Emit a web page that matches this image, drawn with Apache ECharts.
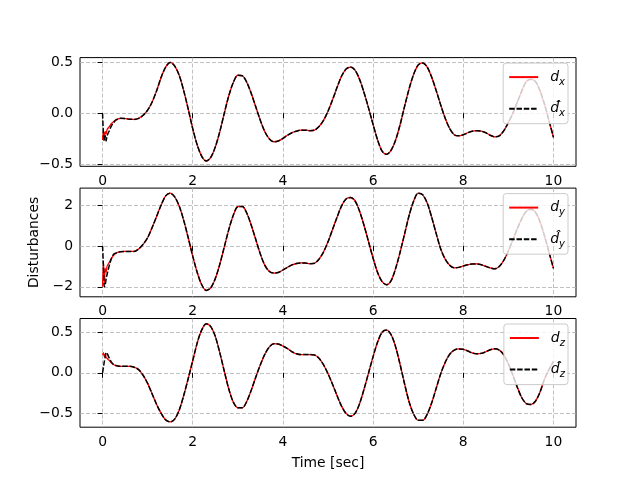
<!DOCTYPE html>
<html><head><meta charset="utf-8">
<script src="https://cdn.jsdelivr.net/npm/echarts@6/dist/echarts.min.js"></script>
<style>html,body{margin:0;padding:0;background:#fff}#c{width:640px;height:480px}</style>
</head><body><div id="c"></div><script>
// transient part (0 .. 0.25 s)
const startTime = [0, 0.02, 0.04, 0.06, 0.08, 0.1, 0.15, 0.2, 0.25];
const dxStart    = [-0.26, -0.17, -0.24, -0.18, -0.2, -0.16, -0.13, -0.1, -0.08];
const dxHatStart = [0, -0.2, -0.27, -0.22, -0.27, -0.22, -0.17, -0.12, -0.09];
const dyStart    = [-2.0, -0.8, -1.8, -1.1, -1.3, -1.0, -0.8, -0.6, -0.45];
const dyHatStart = [0, -1.0, -2.0, -1.9, -1.6, -1.4, -0.95, -0.6, -0.4];
const dzStart    = [0.22, 0.25, 0.2, 0.23, 0.19, 0.18, 0.15, 0.12, 0.1];
const dzHatStart = [0, 0.07, 0.14, 0.2, 0.25, 0.24, 0.18, 0.13, 0.1];

// main part (0.3 .. 10.0 s), estimate coincides with the true value here
const time = [0.3,0.4,0.5,0.6,0.7,0.8,0.9,1.0,1.1,1.2,1.3,1.4,1.5,1.6,1.7,1.8,1.9,2.0,
  2.1,2.2,2.3,2.4,2.5,2.6,2.7,2.8,2.9,3.0,3.1,3.2,3.3,3.4,3.5,3.6,3.7,3.8,3.9,4.0,
  4.1,4.2,4.3,4.4,4.5,4.6,4.7,4.8,4.9,5.0,5.1,5.2,5.3,5.4,5.5,5.6,5.7,5.8,5.9,6.0,
  6.1,6.2,6.3,6.4,6.5,6.6,6.7,6.8,6.9,7.0,7.1,7.2,7.3,7.4,7.5,7.6,7.7,7.8,7.9,8.0,
  8.1,8.2,8.3,8.4,8.5,8.6,8.7,8.8,8.9,9.0,9.1,9.2,9.3,9.4,9.5,9.6,9.7,9.8,9.9,10.0];
const dx = [-0.065,-0.05,-0.052,-0.058,-0.06,-0.05,-0.02,0.03,0.11,0.22,0.35,0.45,0.495,0.46,0.37,0.22,0.04,-0.15,
  -0.31,-0.42,-0.465,-0.43,-0.33,-0.18,0.0,0.17,0.30,0.37,0.365,0.30,0.19,0.06,-0.07,-0.18,-0.25,-0.278,-0.27,-0.245,
  -0.215,-0.19,-0.175,-0.165,-0.165,-0.17,-0.165,-0.13,-0.07,0.02,0.13,0.25,0.36,0.43,0.45,0.42,0.33,0.20,0.05,-0.11,
  -0.26,-0.37,-0.40,-0.36,-0.26,-0.11,0.07,0.24,0.38,0.47,0.49,0.45,0.35,0.22,0.08,-0.05,-0.15,-0.21,-0.22,-0.21,
  -0.19,-0.175,-0.17,-0.175,-0.19,-0.215,-0.23,-0.22,-0.17,-0.09,0.0,0.11,0.22,0.31,0.33,0.31,0.22,0.09,-0.07,-0.235];
const dy = [-0.35,-0.28,-0.27,-0.27,-0.27,-0.15,0.08,0.4,0.9,1.45,2.0,2.45,2.58,2.4,1.95,1.25,0.4,-0.5,
  -1.3,-1.9,-2.18,-2.05,-1.6,-0.9,-0.05,0.8,1.5,1.92,1.93,1.6,1.0,0.3,-0.4,-0.95,-1.25,-1.33,-1.3,-1.18,
  -1.05,-0.93,-0.86,-0.83,-0.84,-0.87,-0.85,-0.65,-0.3,0.2,0.8,1.4,1.95,2.3,2.37,2.2,1.7,1.0,0.2,-0.6,
  -1.3,-1.75,-1.9,-1.7,-1.1,-0.3,0.6,1.5,2.2,2.58,2.5,2.1,1.4,0.6,-0.15,-0.65,-0.95,-1.07,-1.05,-0.98,
  -0.92,-0.88,-0.88,-0.92,-1.0,-1.08,-1.12,-1.0,-0.7,-0.25,0.3,0.85,1.35,1.7,1.8,1.65,1.2,0.5,-0.3,-1.1];
const dz = [0.09,0.08,0.08,0.08,0.07,0.04,-0.03,-0.13,-0.26,-0.39,-0.50,-0.58,-0.605,-0.57,-0.46,-0.28,-0.07,0.15,
  0.37,0.53,0.605,0.57,0.45,0.25,0.02,-0.2,-0.36,-0.43,-0.43,-0.35,-0.21,-0.05,0.1,0.23,0.32,0.36,0.355,0.33,
  0.3,0.26,0.235,0.225,0.225,0.225,0.22,0.18,0.1,-0.01,-0.14,-0.28,-0.41,-0.5,-0.535,-0.5,-0.38,-0.2,0.0,0.2,
  0.38,0.5,0.527,0.47,0.32,0.1,-0.14,-0.36,-0.51,-0.585,-0.585,-0.51,-0.37,-0.19,-0.01,0.13,0.23,0.28,0.295,0.29,
  0.27,0.245,0.235,0.24,0.26,0.285,0.296,0.28,0.22,0.11,-0.03,-0.18,-0.31,-0.38,-0.39,-0.35,-0.24,-0.08,0.04,0.14];

const xTicks = [0, 2, 4, 6, 8, 10];
const yTicks = [[-0.5, 0, 0.5], [-2, 0, 2], [-0.5, 0, 0.5]];
const yRanges = [[-0.517, 0.542], [-2.49, 2.83], [-0.67, 0.67]];
const yDecimals = [1, 0, 1];
const seriesNames = [['dx', 'dxh'], ['dy', 'dyh'], ['dz', 'dzh']];
const legendLabels = {
  dx: '{sp|}{d|d}{s|x}', dxh: '{sp|}{d|d\u0302}{s|x}',
  dy: '{sp|}{d|d}{s|y}', dyh: '{sp|}{d|d\u0302}{s|y}',
  dz: '{sp|}{d|d}{s|z}', dzh: '{sp|}{d|d\u0302}{s|z}'
};
const trueSets = [[dxStart, dx], [dyStart, dy], [dzStart, dz]];
const hatSets = [[dxHatStart, dx], [dyHatStart, dy], [dzHatStart, dz]];

function pairs(st, sv, mv) {
  const out = [];
  for (let i = 0; i < st.length; i++) out.push([st[i], sv[i]]);
  for (let i = 0; i < time.length; i++) out.push([time[i], mv[i]]);
  return out;
}
function fmt(v, d) {
  const s = Math.abs(v).toFixed(d);
  return (v < 0 ? '\u2212' : '') + s;
}

const FONT = 'DejaVu Sans';
const gridTops = [57.6, 188.1, 318.5];
const H = 108.7;
const grids = [], xAxes = [], yAxes = [], series = [], legends = [];
for (let k = 0; k < 3; k++) {
  grids.push({left: 80, right: 64, top: gridTops[k], height: H, show: true,
    borderColor: '#000', borderWidth: 1, backgroundColor: 'transparent'});
  xAxes.push({type: 'value', gridIndex: k, min: -0.5, max: 10.5,
    axisLine: {show: false},
    axisTick: {show: true, inside: false, length: 5, lineStyle: {color: '#000', width: 1}, customValues: xTicks},
    axisLabel: {customValues: xTicks, color: '#000', fontSize: 13.9, fontFamily: FONT, margin: 8,
      formatter: v => String(v)},
    splitLine: {show: true, lineStyle: {color: '#b0b0b0', width: 0.8, type: [4, 2]}},
    name: k === 2 ? 'Time [sec]' : '', nameLocation: 'middle', nameGap: 29,
    nameTextStyle: {color: '#000', fontSize: 13.9, fontFamily: FONT}
  });
  yAxes.push({type: 'value', gridIndex: k, min: yRanges[k][0], max: yRanges[k][1],
    axisLine: {show: false},
    axisTick: {show: true, inside: false, length: 5, lineStyle: {color: '#000', width: 1}, customValues: yTicks[k]},
    axisLabel: {customValues: yTicks[k], color: '#000', fontSize: 13.9, fontFamily: FONT, margin: 7,
      formatter: (d => v => fmt(v, d))(yDecimals[k])},
    splitLine: {show: true, lineStyle: {color: '#b0b0b0', width: 0.8, type: [4, 2]}},
    name: k === 1 ? 'Disturbances' : '', nameLocation: 'middle', nameGap: 25,
    nameTextStyle: {color: '#000', fontSize: 13.9, fontFamily: FONT}
  });
  series.push({name: seriesNames[k][0], type: 'line', xAxisIndex: k, yAxisIndex: k,
    data: pairs(startTime, trueSets[k][0], trueSets[k][1]),
    symbol: 'none', smooth: 0.3, lineStyle: {color: '#ff0000', width: 1.3}, itemStyle: {color: '#ff0000'}, z: 2});
  series.push({name: seriesNames[k][1], type: 'line', xAxisIndex: k, yAxisIndex: k,
    data: pairs(startTime, hatSets[k][0], hatSets[k][1]),
    symbol: 'none', smooth: 0.3, lineStyle: {color: '#000', width: 1.5, type: [5.5, 1.8]}, itemStyle: {color: '#000'}, z: 3});
  legends.push({data: seriesNames[k], orient: 'vertical', right: 72, top: gridTops[k] + 5.5,
    itemWidth: 29, itemHeight: 14, itemGap: 14.6, selectedMode: false,
    padding: [7, 3, 5, 5], backgroundColor: 'rgba(255,255,255,0.8)', borderColor: '#cccccc',
    borderWidth: 1, borderRadius: 3,
    itemStyle: {opacity: 0},
    formatter: n => legendLabels[n],
    textStyle: {color: '#000', rich: {
      sp: {width: 7},
      d: {fontFamily: FONT, fontStyle: 'italic', fontSize: 14, lineHeight: 20, color: '#000'},
      s: {fontFamily: FONT, fontStyle: 'italic', fontSize: 10, lineHeight: 10, verticalAlign: 'bottom', color: '#000'}
    }}
  });
}

const chart = echarts.init(document.getElementById('c'), null, {renderer: 'canvas'});
chart.setOption({
  animation: false,
  backgroundColor: '#fff',
  grid: grids, xAxis: xAxes, yAxis: yAxes, series: series, legend: legends
});
</script></body></html>
